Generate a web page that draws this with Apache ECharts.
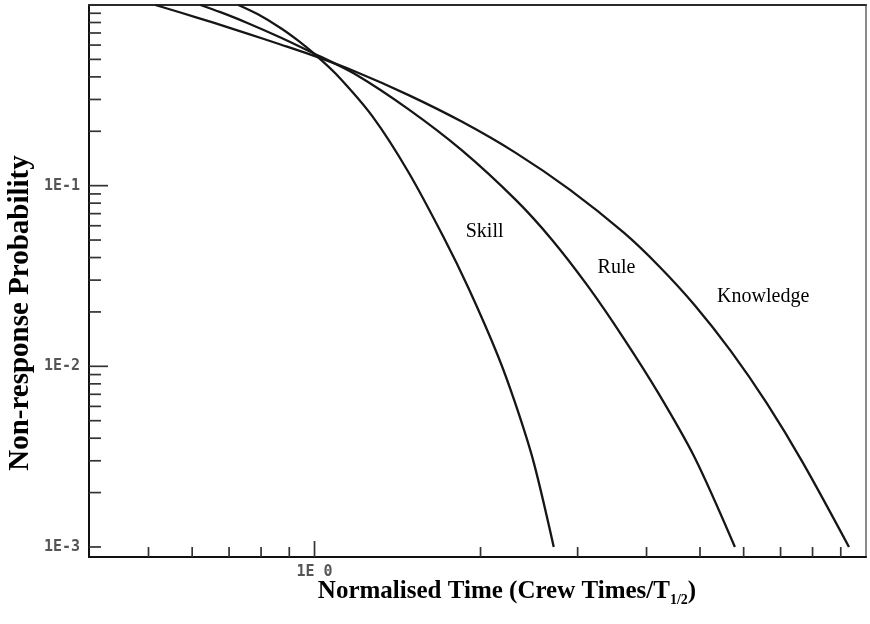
<!DOCTYPE html>
<html>
<head>
<meta charset="utf-8">
<script src="https://cdn.jsdelivr.net/npm/echarts@6/dist/echarts.min.js"></script>
<style>
  html, body { margin: 0; padding: 0; background: #ffffff; }
  #chart { width: 870px; height: 624px; }
</style>
</head>
<body>
<div id="chart"></div>
<script>
// Non-response probability curves against normalised crew time (log-log)
const skillTime = [0.7277, 0.7881, 0.8676, 0.9315, 0.9958, 1.0962, 1.2746, 1.4814, 1.7143, 1.9034, 2.1485, 2.3167, 2.4972, 2.7152];
const skillProb = [1.0, 0.8904, 0.7467, 0.6393, 0.5410, 0.4120, 0.2409, 0.1183, 0.0518, 0.02695, 0.01152, 0.00613, 0.00294, 0.001];

const ruleTime = [0.6211, 0.6751, 0.7556, 0.8676, 0.9958, 1.1819, 1.4814, 1.8486, 2.3167, 2.6922, 3.1290, 3.6384, 4.2102, 4.8951, 5.7849];
const ruleProb = [1.0, 0.9124, 0.7952, 0.6607, 0.5403, 0.4163, 0.2644, 0.1572, 0.0834, 0.0504, 0.02786, 0.01425, 0.00704, 0.00311, 0.001];

const knowTime = [0.5145, 0.5712, 0.6556, 0.7556, 0.8676, 0.9958, 1.1819, 1.4814, 1.8486, 2.3167, 2.9024, 3.6384, 4.2102, 4.8951, 5.6885, 6.6114, 7.6860, 9.3137];
const knowProb = [1.0, 0.9089, 0.7980, 0.6947, 0.6045, 0.5240, 0.4296, 0.3172, 0.2263, 0.1519, 0.0951, 0.0549, 0.0359, 0.02171, 0.01213, 0.00623, 0.00292, 0.001];

// curve name labels, anchored in data space
const curveNames = ['Skill', 'Rule', 'Knowledge'];
const labelTime = [1.88, 3.26, 5.37];
const labelProb = [0.0554, 0.035, 0.0242];

// axis extents
const X_MIN = 0.39, X_MAX = 10;
const Y_MIN = 0.00088, Y_MAX = 1;

// tick marks and tick labels
const xLongTicks = [1];
const xShortTicks = [0.5, 0.6, 0.7, 0.8, 0.9, 2, 3, 4, 5, 6, 7, 8, 9];
const yLongTicks = [0.1, 0.01];
const yShortTicks = [0.9, 0.8, 0.7, 0.6, 0.5, 0.4, 0.3, 0.2,
                     0.09, 0.08, 0.07, 0.06, 0.05, 0.04, 0.03, 0.02,
                     0.009, 0.008, 0.007, 0.006, 0.005, 0.004, 0.003, 0.002, 0.001];
const xTickValues = [1];
const xTickLabels = ['1E 0'];
const yTickValues = [0.1, 0.01, 0.001];
const yTickLabels = ['1E-1', '1E-2', '1E-3'];

function labelFor(values, labels) {
  return function (v) {
    for (let i = 0; i < values.length; i++) {
      if (Math.abs(Math.log10(v) - Math.log10(values[i])) < 1e-6) return labels[i];
    }
    return '';
  };
}

function zip(a, b) { return a.map((v, i) => [v, b[i]]); }

// inward tick marks drawn from the axis scales
function tickSeries(points, dx, dy) {
  return {
    type: 'custom',
    coordinateSystem: 'cartesian2d',
    silent: true,
    clip: false,
    z: 1,
    data: points,
    renderItem: function (params, api) {
      const c = api.coord([api.value(0), api.value(1)]);
      return {
        type: 'line',
        shape: { x1: c[0], y1: c[1], x2: c[0] + dx, y2: c[1] + dy },
        style: { stroke: '#333333', lineWidth: 1.7 }
      };
    }
  };
}

function curve(name, t, p) {
  return {
    name: name,
    type: 'line',
    data: zip(t, p),
    smooth: 0.3,
    showSymbol: false,
    symbol: 'none',
    lineStyle: { color: '#161616', width: 2.3 },
    itemStyle: { color: '#161616' },
    z: 3
  };
}

const chart = echarts.init(document.getElementById('chart'));
chart.setOption({
  animation: false,
  backgroundColor: '#ffffff',
  grid: { left: 89, right: 4, top: 5, bottom: 67, containLabel: false },
  xAxis: [
    {
      type: 'log', logBase: 10, min: X_MIN, max: X_MAX,
      axisLine: { show: true, lineStyle: { color: '#111111', width: 2 } },
      axisTick: { show: false },
      splitLine: { show: false },
      minorTick: { show: false },
      axisLabel: {
        show: true, margin: 8, formatter: labelFor(xTickValues, xTickLabels),
        fontFamily: 'DejaVu Sans Mono', fontWeight: 'bold', fontSize: 15, color: '#555555'
      }
    },
    {
      type: 'log', logBase: 10, min: X_MIN, max: X_MAX, position: 'top',
      axisLine: { show: true, lineStyle: { color: '#2a2a2a', width: 2 } },
      axisTick: { show: false }, axisLabel: { show: false }, splitLine: { show: false }
    }
  ],
  yAxis: [
    {
      type: 'log', logBase: 10, min: Y_MIN, max: Y_MAX,
      axisLine: { show: true, lineStyle: { color: '#111111', width: 2 } },
      axisTick: { show: false },
      splitLine: { show: false },
      minorTick: { show: false },
      axisLabel: {
        show: true, margin: 9, formatter: labelFor(yTickValues, yTickLabels),
        fontFamily: 'DejaVu Sans Mono', fontWeight: 'bold', fontSize: 15, color: '#555555'
      }
    },
    {
      type: 'log', logBase: 10, min: Y_MIN, max: Y_MAX, position: 'right',
      axisLine: { show: true, lineStyle: { color: '#8a8a8a', width: 2 } },
      axisTick: { show: false }, axisLabel: { show: false }, splitLine: { show: false }
    }
  ],
  graphic: [
    {
      type: 'text', x: 21, y: 313, rotation: Math.PI / 2,
      style: {
        text: 'Non-response Probability',
        fontFamily: 'Liberation Serif', fontWeight: 'bold', fontSize: 29,
        fill: '#000000', align: 'center', verticalAlign: 'middle'
      }
    },
    {
      type: 'text', x: 507, y: 592,
      style: {
        text: 'Normalised Time (Crew Times/T{sub|1/2})',
        fontFamily: 'Liberation Serif', fontWeight: 'bold', fontSize: 25, lineHeight: 30,
        fill: '#000000', align: 'center', verticalAlign: 'middle',
        rich: {
          sub: {
            fontFamily: 'Liberation Serif', fontWeight: 'bold', fontSize: 14,
            lineHeight: 14, verticalAlign: 'bottom', fill: '#000000'
          }
        }
      }
    }
  ],
  series: [
    curve('Skill', skillTime, skillProb),
    curve('Rule', ruleTime, ruleProb),
    curve('Knowledge', knowTime, knowProb),
    {
      type: 'custom',
      coordinateSystem: 'cartesian2d',
      silent: true,
      clip: false,
      z: 4,
      data: curveNames.map((n, i) => [labelTime[i], labelProb[i]]),
      renderItem: function (params, api) {
        const c = api.coord([api.value(0), api.value(1)]);
        return {
          type: 'text',
          x: c[0], y: c[1],
          style: {
            text: curveNames[params.dataIndex],
            fontFamily: 'Liberation Serif', fontSize: 20, fill: '#000000',
            align: 'left', verticalAlign: 'middle'
          }
        };
      }
    },
    tickSeries(yLongTicks.map(v => [X_MIN, v]), 19, 0),
    tickSeries(yShortTicks.map(v => [X_MIN, v]), 12, 0),
    tickSeries(xLongTicks.map(v => [v, Y_MIN]), 0, -16),
    tickSeries(xShortTicks.map(v => [v, Y_MIN]), 0, -10)
  ]
});
</script>
</body>
</html>
